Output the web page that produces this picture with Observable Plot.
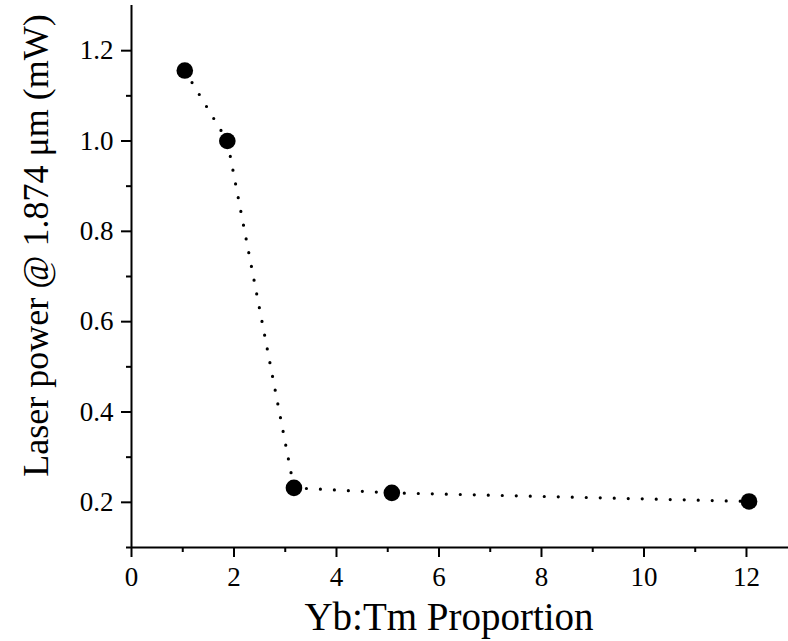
<!DOCTYPE html>
<html>
<head>
<meta charset="utf-8">
<script src="https://cdn.jsdelivr.net/npm/d3@7"></script>
<script src="https://cdn.jsdelivr.net/npm/@observablehq/plot@0.6"></script>
<style>
  html, body { margin: 0; padding: 0; background: #fff; }
  #chart svg { display: block; }
  #chart svg text { font-family: 'Liberation Serif', 'Times New Roman', serif !important; }
  #chart svg g[aria-label="x-axis tick label"] text,
  #chart svg g[aria-label="y-axis tick label"] text { font-size: 27px !important; font-variant: normal !important; }
</style>
</head>
<body>
<div id="chart"></div>
<script>
const proportion = [1.04, 1.87, 3.17, 5.08, 12.05];
const power = [1.156, 1.0, 0.232, 0.221, 0.202];
const xMajorTicks = [0, 2, 4, 6, 8, 10, 12];
const xMinorTicks = [1, 3, 5, 7, 9, 11];
const yMajorTicks = [0.2, 0.4, 0.6, 0.8, 1.0, 1.2];
const yMinorTicks = [0.1, 0.3, 0.5, 0.7, 0.9, 1.1];
const xTitle = "Yb:Tm Proportion";
const yTitle = "Laser power @ 1.874 μm (mW)";

const data = proportion.map((x, i) => ({x, y: power[i]}));
const font = "'Liberation Serif', 'Times New Roman', serif";

const chart = Plot.plot({
  width: 788,
  height: 641,
  marginTop: 5,
  marginBottom: 94,
  marginLeft: 131,
  marginRight: 0,
  style: {fontFamily: font, color: "#000", background: "#fff", fontSize: "27px"},
  x: {domain: [0, 12.82]},
  y: {domain: [0.1, 1.3]},
  marks: [
    Plot.axisX({ticks: xMajorTicks, tickSize: 10, tickPadding: 9, strokeWidth: 2, fontSize: 27, label: null, tickFormat: d3.format("d")}),
    Plot.axisX({ticks: xMinorTicks, tickSize: 5, strokeWidth: 2, text: null, label: null}),
    Plot.axisY({ticks: yMajorTicks, tickSize: 10, tickPadding: 8, strokeWidth: 2, fontSize: 27, label: null, tickFormat: d3.format(".1f")}),
    Plot.axisY({ticks: yMinorTicks, tickSize: 5, strokeWidth: 2, text: null, label: null}),
    Plot.ruleX([0], {stroke: "#000", strokeWidth: 2}),
    Plot.ruleY([0.1], {stroke: "#000", strokeWidth: 2}),
    Plot.line(data, {x: "x", y: "y", stroke: "#000", strokeWidth: 3.2, strokeDasharray: "0,14", strokeLinecap: "round"}),
    Plot.dot(data, {x: "x", y: "y", r: 8.3, fill: "#000", stroke: "none"}),
    Plot.text([xTitle], {text: d => d, frameAnchor: "bottom", textAnchor: "middle", lineAnchor: "middle", dx: -11, dy: 70, fontSize: 39, fill: "#000"}),
    Plot.text([yTitle], {text: d => d, frameAnchor: "left", rotate: -90, textAnchor: "middle", lineAnchor: "middle", dx: -95, dy: -31, fontSize: 36, fill: "#000"})
  ]
});
document.getElementById("chart").appendChild(chart);
</script>
</body>
</html>
